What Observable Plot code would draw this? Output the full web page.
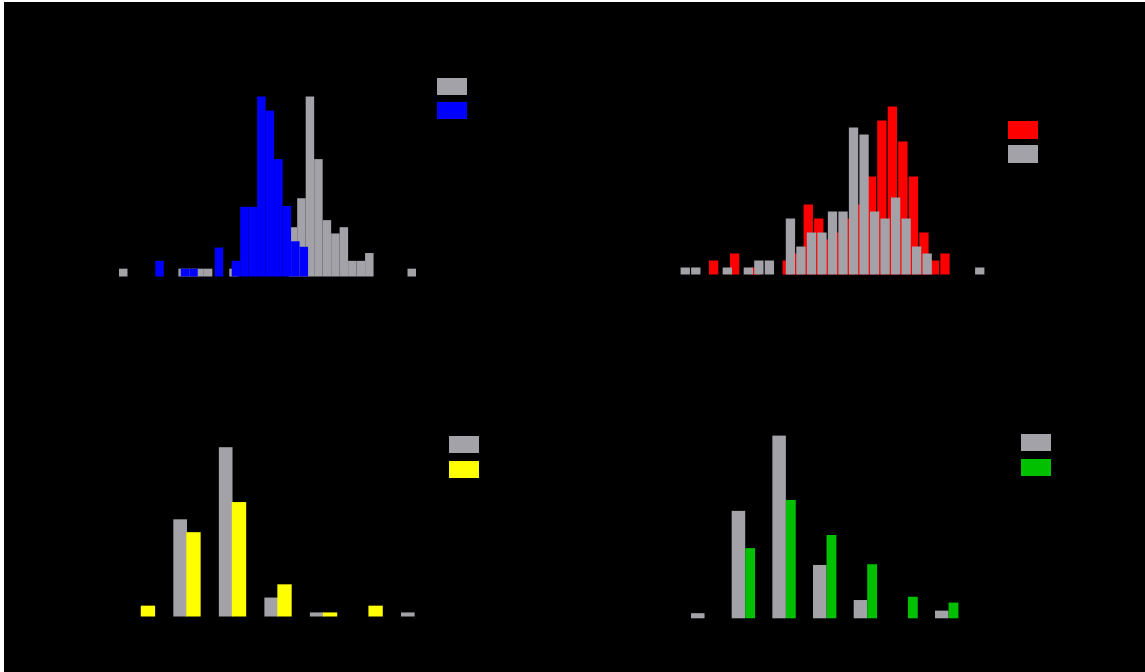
<!DOCTYPE html>
<html><head><meta charset="utf-8">
<script src="https://cdn.jsdelivr.net/npm/d3@7"></script>
<script src="https://cdn.jsdelivr.net/npm/@observablehq/plot@0.6"></script>
<style>
html,body{margin:0;padding:0;background:#fff;}
#page{position:relative;width:1145px;height:672px;overflow:hidden;}
#bg{position:absolute;left:4px;top:2px;width:1141px;height:670px;background:#000;}
.panel{position:absolute;}
.sw{position:absolute;width:30px;height:17px;}
</style></head><body>
<div id="page"><div id="bg"></div></div>
<script>
// ---------- data ----------
// Panel 1 (top-left): overlaid histograms, gray then blue
const p1GrayStart = 0, p1GrayBin = 1;
const p1GrayCounts = [1,0,0,0,0,0,0,1,1,1,1,0,0,1,0,0,0,0,0,0,6.3,10,23,15,7.2,5.5,6.3,2,2,3,0,0,0,0,1];
const p1BlueStart = 4.28, p1BlueBin = 1;
const p1BlueCounts = [2,0,0,1,1,0,0,3.7,0,2,8.9,8.9,23,21.2,15,9,4.5,3.8];

// Panel 2 (top-right): overlaid histograms, red then gray
const p2RedStart = 2.694, p2RedBin = 1;
const p2RedCounts = [2,0,3,0,1,0,0,2,3,10,8,5,6,8,10,14,22,24,19,14,6,2,3];
const p2GrayStart = 0, p2GrayBin = 1;
const p2GrayCounts = [1,1,0,0,1,0,1,2,2,0,8,4,6,6,9,9,21,20,9,8,11,8,4,3,0,0,0,0,1];

// Panel 3 (bottom-left): side-by-side histogram, gray and yellow (7 bins)
const p3Bins = [0,1,2,3,4,5,6];
const p3Gray   = [0, 0.287, 0.5, 0.056, 0.012, 0, 0.012];
const p3Yellow = [0.032, 0.249, 0.338, 0.095, 0.012, 0.032, 0];

// Panel 4 (bottom-right): side-by-side histogram, gray and green (7 bins)
const p4Bins = [0,1,2,3,4,5,6];
const p4Gray  = [0.014, 0.294, 0.5, 0.146, 0.05, 0, 0.021];
const p4Green = [0, 0.192, 0.324, 0.228, 0.148, 0.059, 0.043];

const GRAY = "#a3a2a8", BLUE = "#0000ff", RED = "#ff0000", YELLOW = "#ffff00", GREEN = "#00c000";

// ---------- helpers ----------
function histRows(start, bin, counts) {
  return counts.map((c, i) => ({x1: start + i * bin, x2: start + (i + 1) * bin, y: c})).filter(d => d.y > 0);
}
function groupRows(bins, vals, a, b) {
  return bins.map((k, i) => ({x1: k + a, x2: k + b, y: vals[i]})).filter(d => d.y > 0);
}
const page = document.getElementById("page");
function place(svg, left, top) {
  svg.classList.add("panel");
  svg.style.left = left + "px";
  svg.style.top = top + "px";
  svg.style.maxWidth = "none";
  page.appendChild(svg);
}
function swatch(left, top, color, w = 30, h = 17) {
  const d = document.createElement("div");
  d.className = "sw";
  Object.assign(d.style, {left: left + "px", top: top + "px", width: w + "px", height: h + "px", background: color});
  page.appendChild(d);
}

// ---------- panel 1 ----------
place(Plot.plot({
  width: 340, height: 220,
  marginLeft: 19, marginRight: 24, marginTop: 26.5, marginBottom: 13.5,
  x: {domain: [0, 35], axis: null},
  y: {domain: [0, 23], axis: null},
  style: {background: "transparent"},
  marks: [
    Plot.rect(histRows(p1GrayStart, p1GrayBin, p1GrayCounts), {x1: "x1", x2: "x2", y1: 0, y2: "y", fill: GRAY}),
    Plot.rect(histRows(p1BlueStart, p1BlueBin, p1BlueCounts), {x1: "x1", x2: "x2", y1: 0, y2: "y", fill: BLUE})
  ]
}), 100, 70);
swatch(437, 78, GRAY);
swatch(437, 102, BLUE);

// ---------- panel 2 ----------
place(Plot.plot({
  width: 360, height: 210,
  marginLeft: 20, marginRight: 35, marginTop: 26.5, marginBottom: 15.5,
  x: {domain: [0, 29], axis: null},
  y: {domain: [0, 24], axis: null},
  style: {background: "transparent"},
  marks: [
    Plot.rect(histRows(p2RedStart, p2RedBin, p2RedCounts), {x1: "x1", x2: "x2", y1: 0, y2: "y", fill: RED, insetLeft: 0.6, insetRight: 0.6}),
    Plot.rect(histRows(p2GrayStart, p2GrayBin, p2GrayCounts), {x1: "x1", x2: "x2", y1: 0, y2: "y", fill: GRAY, insetLeft: 0.6, insetRight: 0.6})
  ]
}), 660, 80);
swatch(1008, 121, RED, 30, 18);
swatch(1008, 145, GRAY, 30, 18);

// ---------- panel 3 ----------
place(Plot.plot({
  width: 360, height: 210,
  marginLeft: 27.8, marginRight: 13.5, marginTop: 27.2, marginBottom: 13.5,
  x: {domain: [0, 7], axis: null},
  y: {domain: [0, 0.5], axis: null},
  style: {background: "transparent"},
  marks: [
    Plot.rect(groupRows(p3Bins, p3Gray, 0, 0.3), {x1: "x1", x2: "x2", y1: 0, y2: "y", fill: GRAY}),
    Plot.rect(groupRows(p3Bins, p3Yellow, 0.285, 0.6), {x1: "x1", x2: "x2", y1: 0, y2: "y", fill: YELLOW})
  ]
}), 100, 420);
swatch(449, 436, GRAY);
swatch(449, 461, YELLOW);

// ---------- panel 4 ----------
place(Plot.plot({
  width: 330, height: 220,
  marginLeft: 21, marginRight: 24.3, marginTop: 25.6, marginBottom: 11.7,
  x: {domain: [0, 7], axis: null},
  y: {domain: [0, 0.5], axis: null},
  style: {background: "transparent"},
  marks: [
    Plot.rect(groupRows(p4Bins, p4Gray, 0, 0.333), {x1: "x1", x2: "x2", y1: 0, y2: "y", fill: GRAY}),
    Plot.rect(groupRows(p4Bins, p4Green, 0.333, 0.575), {x1: "x1", x2: "x2", y1: 0, y2: "y", fill: GREEN})
  ]
}), 670, 410);
swatch(1021, 434, GRAY);
swatch(1021, 459, GREEN);
</script>
</body></html>
